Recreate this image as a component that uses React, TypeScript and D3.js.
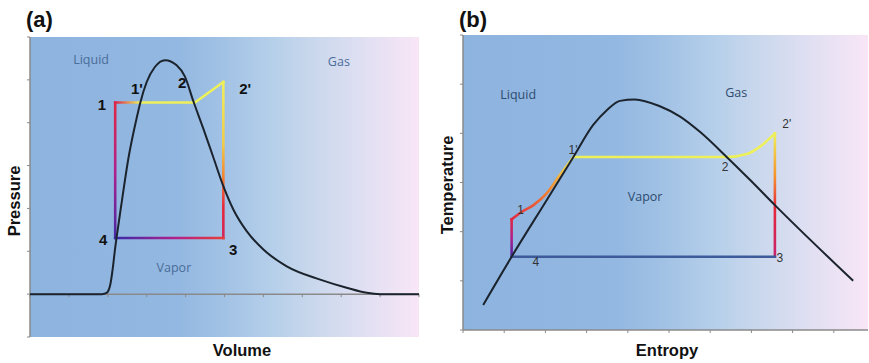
import * as d3 from 'd3';

type Pt = [number, number];

// ---- axis ticks ----
const volumeTicks = d3.range(0, 11);
const pressureTicks = d3.range(-1, 7);
const entropyTicks = d3.range(0, 10);
const temperatureTicks = d3.range(0, 7);

// ---- panel (a): P-V ----
const domeA: Pt[] = [
  [0, 0], [1.85, 0], [1.97, 0.03], [2.07, 0.25], [2.12, 0.55], [2.19, 1.08], [2.23, 1.35],
  [2.36, 2.16], [2.53, 3.17], [2.74, 4.1], [2.83, 4.45], [3.0, 4.95], [3.21, 5.3],
  [3.47, 5.46], [3.77, 5.34], [3.98, 5.08], [4.2, 4.5], [4.46, 3.85], [4.71, 3.2],
  [4.97, 2.52], [5.23, 1.97], [5.57, 1.47], [6.0, 1.04], [6.6, 0.65], [7.46, 0.34],
  [8.14, 0.15], [8.66, 0.03], [9.0, 0], [10, 0],
];
const legA41: Pt[] = [[2.19, 1.31], [2.19, 4.47]];
const legA12: Pt[] = [[2.19, 4.47], [4.24, 4.47], [4.97, 4.95]];
const legA23: Pt[] = [[4.97, 4.95], [4.97, 1.31]];
const legA34: Pt[] = [[4.97, 1.31], [2.19, 1.31]];
// heat along each leg: [offset, heat]
const heatA41: Pt[] = [[0, 0.12], [0.5, 0.3], [1, 0.48]];
const heatA12: Pt[] = [[0, 0.45], [0.22, 1], [1, 1]];
const heatA23: Pt[] = [[0, 1], [0.4, 0.9], [0.6, 0.72], [0.8, 0.5], [1, 0.42]];
const heatA34: Pt[] = [[0, 0.55], [0.45, 0.3], [1, 0.1]];
const pointLabelsA: [string, number, number][] = [
  ['1', 1.85, 4.42], ["1'", 2.75, 4.79], ['2', 3.91, 4.95], ["2'", 5.53, 4.79],
  ['3', 5.22, 1.05], ['4', 1.88, 1.28],
];
const regionLabelsA: [string, number, number][] = [
  ['Liquid', 1.57, 5.47], ['Gas', 7.94, 5.42], ['Vapor', 3.7, 0.63],
];

// ---- panel (b): T-S ----
const domeB: Pt[] = [
  [0.49, 0.51], [1.18, 1.49], [2.03, 2.64], [2.68, 3.52], [3.16, 4.17], [3.49, 4.47],
  [3.81, 4.66], [4.17, 4.69], [4.78, 4.55], [5.27, 4.34], [5.75, 4.03], [6.4, 3.52],
  [6.97, 3.05], [7.57, 2.54], [9.47, 1.0],
];
const legB41: Pt[] = [[1.18, 1.49], [1.18, 2.25]];
const legB11: Pt[] = [[1.18, 2.25], [1.42, 2.4], [1.71, 2.54], [2.03, 2.78], [2.35, 3.15], [2.68, 3.52]];
const legB12: Pt[] = [[2.68, 3.52], [6.4, 3.52], [6.89, 3.58], [7.21, 3.73], [7.57, 4.0]];
const legB23: Pt[] = [[7.57, 4.0], [7.57, 1.49]];
const legB34: Pt[] = [[7.57, 1.49], [1.18, 1.49]];
const heatB41: Pt[] = [[0, 0.12], [0.5, 0.3], [1, 0.48]];
const heatB11: Pt[] = [[0, 0.48], [0.5, 0.7], [1, 1]];
const heatB12: Pt[] = [[0, 1], [1, 1]];
const heatB23: Pt[] = [[0, 1], [0.35, 0.75], [0.6, 0.5], [1, 0.38]];
const heatB34: Pt[] = [[0, 0], [1, 0]];
const pointLabelsB: [string, number, number][] = [
  ['1', 1.4, 2.45], ["1'", 2.67, 3.66], ['2', 6.36, 3.32], ["2'", 7.86, 4.2],
  ['3', 7.69, 1.47], ['4', 1.77, 1.39],
];
const regionLabelsB: [string, number, number][] = [
  ['Liquid', 1.34, 4.79], ['Gas', 6.63, 4.83], ['Vapor', 4.42, 2.71],
];

const heatColor = d3.scaleLinear<string>()
  .domain([0, 0.1, 0.3, 0.5, 0.75, 1])
  .range(['#3d5b9b', '#3a2aa8', '#b0208c', '#e6283a', '#f5922c', '#eef05a']);

const bgStops: [number, string][] = [
  [0, '#8db3df'], [0.38, '#93b8e1'], [0.5, '#a2c2e5'], [0.62, '#b5cfea'],
  [0.72, '#c8d7ec'], [0.85, '#dfdff2'], [1, '#f8e6f6'],
];

interface Leg { pts: Pt[]; heat: Pt[]; smooth: boolean }

interface PanelProps {
  id: string;
  box: { left: number; right: number; top: number; bottom: number };
  xDomain: [number, number];
  yDomain: [number, number];
  xTicks: number[];
  yTicks: number[];
  xAxisAt: number;
  dome: Pt[];
  legs: Leg[];
  pointLabels: [string, number, number][];
  regionLabels: [string, number, number][];
  boldPoints: boolean;
  regionColor: string;
  title: string;
  xTitle: string;
  yTitle: string;
  xTitleX: number;
  yTitleX: number;
  yTitleY: number;
}

const Panel = (p: PanelProps) => {
  const x = d3.scaleLinear().domain(p.xDomain).range([p.box.left, p.box.right]);
  const y = d3.scaleLinear().domain(p.yDomain).range([p.box.bottom, p.box.top]);
  const domeLine = d3.line<Pt>().x(d => x(d[0])).y(d => y(d[1])).curve(d3.curveMonotoneX);
  const smoothLine = d3.line<Pt>().x(d => x(d[0])).y(d => y(d[1])).curve(d3.curveMonotoneX);
  const straightLine = d3.line<Pt>().x(d => x(d[0])).y(d => y(d[1]));
  const axisY = y(p.xAxisAt);
  const font = "'Liberation Sans', Arial, sans-serif";

  return (
    <g>
      <defs>
        <linearGradient id={`bg-${p.id}`} x1="0" y1="0" x2="1" y2="0">
          {bgStops.map(([o, c]) => <stop key={o} offset={o} stopColor={c} />)}
        </linearGradient>
        {p.legs.map((leg, i) => {
          const a = leg.pts[0], b = leg.pts[leg.pts.length - 1];
          return (
            <linearGradient key={i} id={`leg-${p.id}-${i}`} gradientUnits="userSpaceOnUse"
              x1={x(a[0])} y1={y(a[1])} x2={x(b[0])} y2={y(b[1])}>
              {leg.heat.map(([o, h]) => <stop key={o} offset={o} stopColor={heatColor(h)} />)}
            </linearGradient>
          );
        })}
      </defs>
      <rect x={p.box.left} y={p.box.top} width={p.box.right - p.box.left}
        height={p.box.bottom - p.box.top} fill={`url(#bg-${p.id})`} />

      {/* left axis */}
      <line x1={p.box.left} x2={p.box.left} y1={p.box.top} y2={p.box.bottom} stroke="#8a8a8a" strokeWidth={1.5} />
      {p.yTicks.map(t => (
        <line key={t} x1={p.box.left - 3} x2={p.box.left} y1={y(t)} y2={y(t)} stroke="#8a8a8a" strokeWidth={1} />
      ))}
      {/* horizontal axis */}
      <line x1={p.box.left} x2={p.box.right} y1={axisY} y2={axisY} stroke="#8a8a8a" strokeWidth={1.5} />
      {p.xTicks.map(t => (
        <line key={t} x1={x(t)} x2={x(t)} y1={axisY} y2={axisY + 3} stroke="#8a8a8a" strokeWidth={1} />
      ))}

      {/* cycle */}
      {p.legs.map((leg, i) => (
        <path key={i} d={(leg.smooth ? smoothLine : straightLine)(leg.pts)!}
          fill="none" stroke={`url(#leg-${p.id}-${i})`} strokeWidth={2.6} strokeLinecap="square" strokeLinejoin="miter" />
      ))}

      {/* saturation dome */}
      <path d={domeLine(p.dome)!} fill="none" stroke="#1b232d" strokeWidth={2} />

      {p.regionLabels.map(([t, lx, ly]) => (
        <text key={t} x={x(lx)} y={y(ly)} textAnchor="middle" dominantBaseline="central"
          fontFamily="'Open Sans', sans-serif" fontSize={12.5} fill={p.regionColor}>{t}</text>
      ))}
      {p.pointLabels.map(([t, lx, ly]) => (
        <text key={t} x={x(lx)} y={y(ly)} textAnchor="middle" dominantBaseline="central"
          fontFamily={font} fontSize={p.boldPoints ? 15 : 12} fontWeight={p.boldPoints ? 'bold' : 'normal'}
          fill={p.boldPoints ? '#111' : '#333'}>{t}</text>
      ))}

      <text x={p.box.left - 4} y={27} fontFamily={font} fontWeight="bold" fontSize={22} fill="#111">{p.title}</text>
      <text x={p.xTitleX} y={356} textAnchor="middle" fontFamily={font} fontWeight="bold" fontSize={16.5} fill="#111">{p.xTitle}</text>
      <text transform={`translate(${p.yTitleX},${p.yTitleY}) rotate(-90)`} textAnchor="middle"
        fontFamily={font} fontWeight="bold" fontSize={16.5} fill="#111">{p.yTitle}</text>
    </g>
  );
};

const App = () => {
  return (
    <svg width={869} height={363} style={{ position: 'absolute', left: 0, top: 0, background: '#fff' }}>
      <Panel id="a" box={{ left: 30, right: 419, top: 37, bottom: 337 }}
        xDomain={[0, 10]} yDomain={[-1, 6]} xTicks={volumeTicks} yTicks={pressureTicks} xAxisAt={0}
        dome={domeA}
        legs={[
          { pts: legA41, heat: heatA41, smooth: false }, { pts: legA12, heat: heatA12, smooth: false },
          { pts: legA23, heat: heatA23, smooth: false }, { pts: legA34, heat: heatA34, smooth: false },
        ]}
        pointLabels={pointLabelsA} regionLabels={regionLabelsA} boldPoints={true} regionColor="#4a6d99"
        title="(a)" xTitle="Volume" yTitle="Pressure" xTitleX={242} yTitleX={20} yTitleY={201} />
      <Panel id="b" box={{ left: 463, right: 868, top: 35, bottom: 330 }}
        xDomain={[0, 9.83]} yDomain={[0, 6]} xTicks={entropyTicks} yTicks={temperatureTicks} xAxisAt={0}
        dome={domeB}
        legs={[
          { pts: legB41, heat: heatB41, smooth: false }, { pts: legB11, heat: heatB11, smooth: true },
          { pts: legB12, heat: heatB12, smooth: true }, { pts: legB23, heat: heatB23, smooth: false },
          { pts: legB34, heat: heatB34, smooth: false },
        ]}
        pointLabels={pointLabelsB} regionLabels={regionLabelsB} boldPoints={false} regionColor="#2e4c6e"
        title="(b)" xTitle="Entropy" yTitle="Temperature" xTitleX={667} yTitleX={453} yTitleY={185} />
    </svg>
  );
};

export default App;
